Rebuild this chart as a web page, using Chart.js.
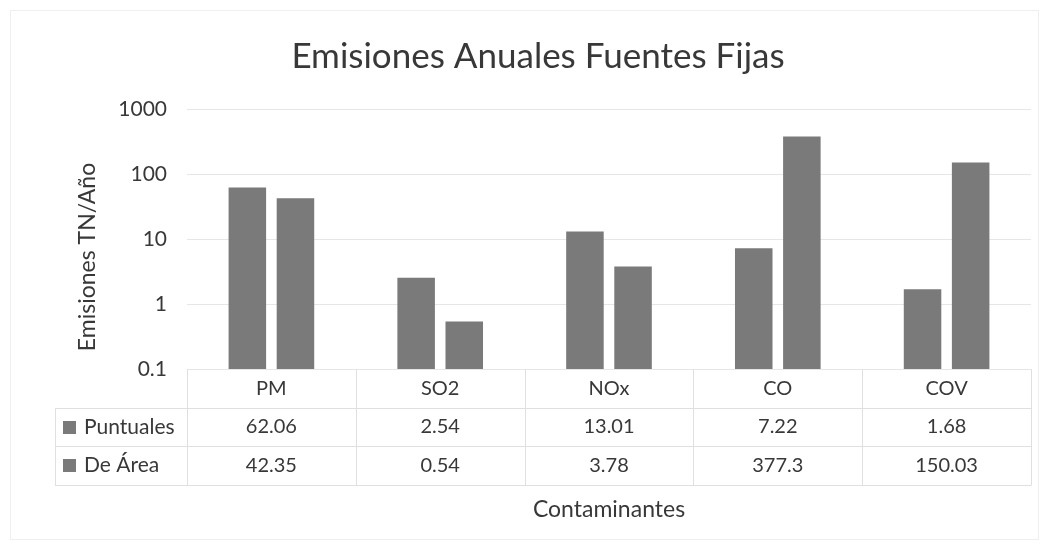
<!DOCTYPE html>
<html lang="es">
<head>
<meta charset="utf-8">
<title>Emisiones Anuales Fuentes Fijas</title>
<script src="https://cdn.jsdelivr.net/npm/chart.js@4.4.1/dist/chart.umd.min.js"></script>
<style>
  html, body { margin: 0; padding: 0; background: #ffffff; }
  #wrap { position: relative; width: 1049px; height: 546px; }
  #frame { position: absolute; left: 10px; top: 10px; width: 1029px; height: 530px; border: 1px solid #efefef; box-sizing: border-box; pointer-events: none; }
  canvas { display: block; }
</style>
</head>
<body>
<div id="wrap">
  <canvas id="chart" width="1049" height="546"></canvas>
  <div id="frame"></div>
</div>
<script>
// Pollutant categories and annual emissions (TN/año) per source type
const categories = ['PM', 'SO2', 'NOx', 'CO', 'COV'];
const puntuales = [62.06, 2.54, 13.01, 7.22, 1.68];
const deArea = [42.35, 0.54, 3.78, 377.3, 150.03];
const seriesNames = ['Puntuales', 'De Área'];
const yTicks = [0.1, 1, 10, 100, 1000];

const FONT = 'Lato, "Open Sans", sans-serif';
const TEXT = '#383838';
const BAR = '#7a7a7a';
const GRID = '#e6e6e6';
const LINE = '#e0e0e0';

// Draws the title, the axis titles, and the data table under the x axis
const tablePlugin = {
  id: 'dataTable',
  afterDraw(chart) {
    const { ctx, chartArea, scales: { x } } = chart;
    const n = categories.length;
    const catW = x.getPixelForValue(1) - x.getPixelForValue(0);
    const rowH = 38.5;
    const top = chartArea.bottom;
    const legendLeft = 55;
    const rows = [puntuales, deArea];

    ctx.save();

    // chart title
    ctx.fillStyle = TEXT;
    ctx.font = '35px ' + FONT;
    ctx.textAlign = 'center';
    ctx.textBaseline = 'alphabetic';
    ctx.fillText('Emisiones Anuales Fuentes Fijas', 538, 68);

    // y-axis title
    ctx.save();
    ctx.translate(88, 257);
    ctx.rotate(-Math.PI / 2);
    ctx.font = '23px ' + FONT;
    ctx.textBaseline = 'middle';
    ctx.fillText('Emisiones TN/Año', 0, 0);
    ctx.restore();

    // x-axis title
    ctx.font = '23px ' + FONT;
    ctx.textBaseline = 'middle';
    ctx.fillText('Contaminantes', (chartArea.left + chartArea.right) / 2, 510);

    // table grid
    ctx.strokeStyle = LINE;
    ctx.lineWidth = 1;
    ctx.beginPath();
    for (let k = 1; k <= rows.length + 1; k++) {
      const y = Math.round(top + rowH * k) + 0.5;
      ctx.moveTo(legendLeft, y);
      ctx.lineTo(chartArea.right, y);
    }
    const bottom = Math.round(top + rowH * (rows.length + 1)) + 0.5;
    for (let i = 0; i <= n; i++) {
      const xx = Math.round(x.getPixelForValue(i) - catW / 2) + 0.5;
      ctx.moveTo(xx, top);
      ctx.lineTo(xx, bottom);
    }
    ctx.moveTo(legendLeft + 0.5, Math.round(top + rowH) + 0.5);
    ctx.lineTo(legendLeft + 0.5, bottom);
    ctx.stroke();

    // table values and legend keys
    ctx.textBaseline = 'middle';
    rows.forEach((vals, r) => {
      const cy = top + rowH * (r + 1) + rowH / 2;
      ctx.fillStyle = BAR;
      ctx.fillRect(63, Math.round(cy - 6), 13, 13);
      ctx.fillStyle = TEXT;
      ctx.textAlign = 'left';
      ctx.font = '21px ' + FONT;
      ctx.fillText(seriesNames[r], 84, cy);
      ctx.textAlign = 'center';
      ctx.font = '20px ' + FONT;
      vals.forEach((v, i) => {
        ctx.fillText(String(v), x.getPixelForValue(i), cy);
      });
    });

    ctx.restore();
  }
};

new Chart(document.getElementById('chart'), {
  type: 'bar',
  data: {
    labels: categories,
    datasets: [
      { label: seriesNames[0], data: puntuales, backgroundColor: BAR },
      { label: seriesNames[1], data: deArea, backgroundColor: BAR }
    ]
  },
  options: {
    responsive: false,
    animation: false,
    devicePixelRatio: 1,
    categoryPercentage: 0.57,
    barPercentage: 0.78,
    layout: { padding: { left: 10, right: 18, top: 109, bottom: 0 } },
    plugins: {
      legend: { display: false },
      title: { display: false },
      tooltip: { enabled: false }
    },
    scales: {
      x: {
        grid: { display: false, drawTicks: false },
        border: { display: false },
        ticks: { color: TEXT, font: { family: FONT, size: 20 }, padding: 8 },
        afterFit(scale) { scale.height = 177; }
      },
      y: {
        type: 'logarithmic',
        min: 0.1,
        max: 1000,
        grid: { color: GRID, drawTicks: false },
        border: { display: false },
        afterBuildTicks(axis) { axis.ticks = yTicks.map(v => ({ value: v })); },
        ticks: {
          color: TEXT,
          font: { family: FONT, size: 21 },
          padding: 20,
          callback: v => (v < 1 ? String(v) : String(Math.round(v)))
        },
        afterFit(scale) { scale.width = 177; }
      }
    }
  },
  plugins: [tablePlugin]
});
</script>
</body>
</html>
